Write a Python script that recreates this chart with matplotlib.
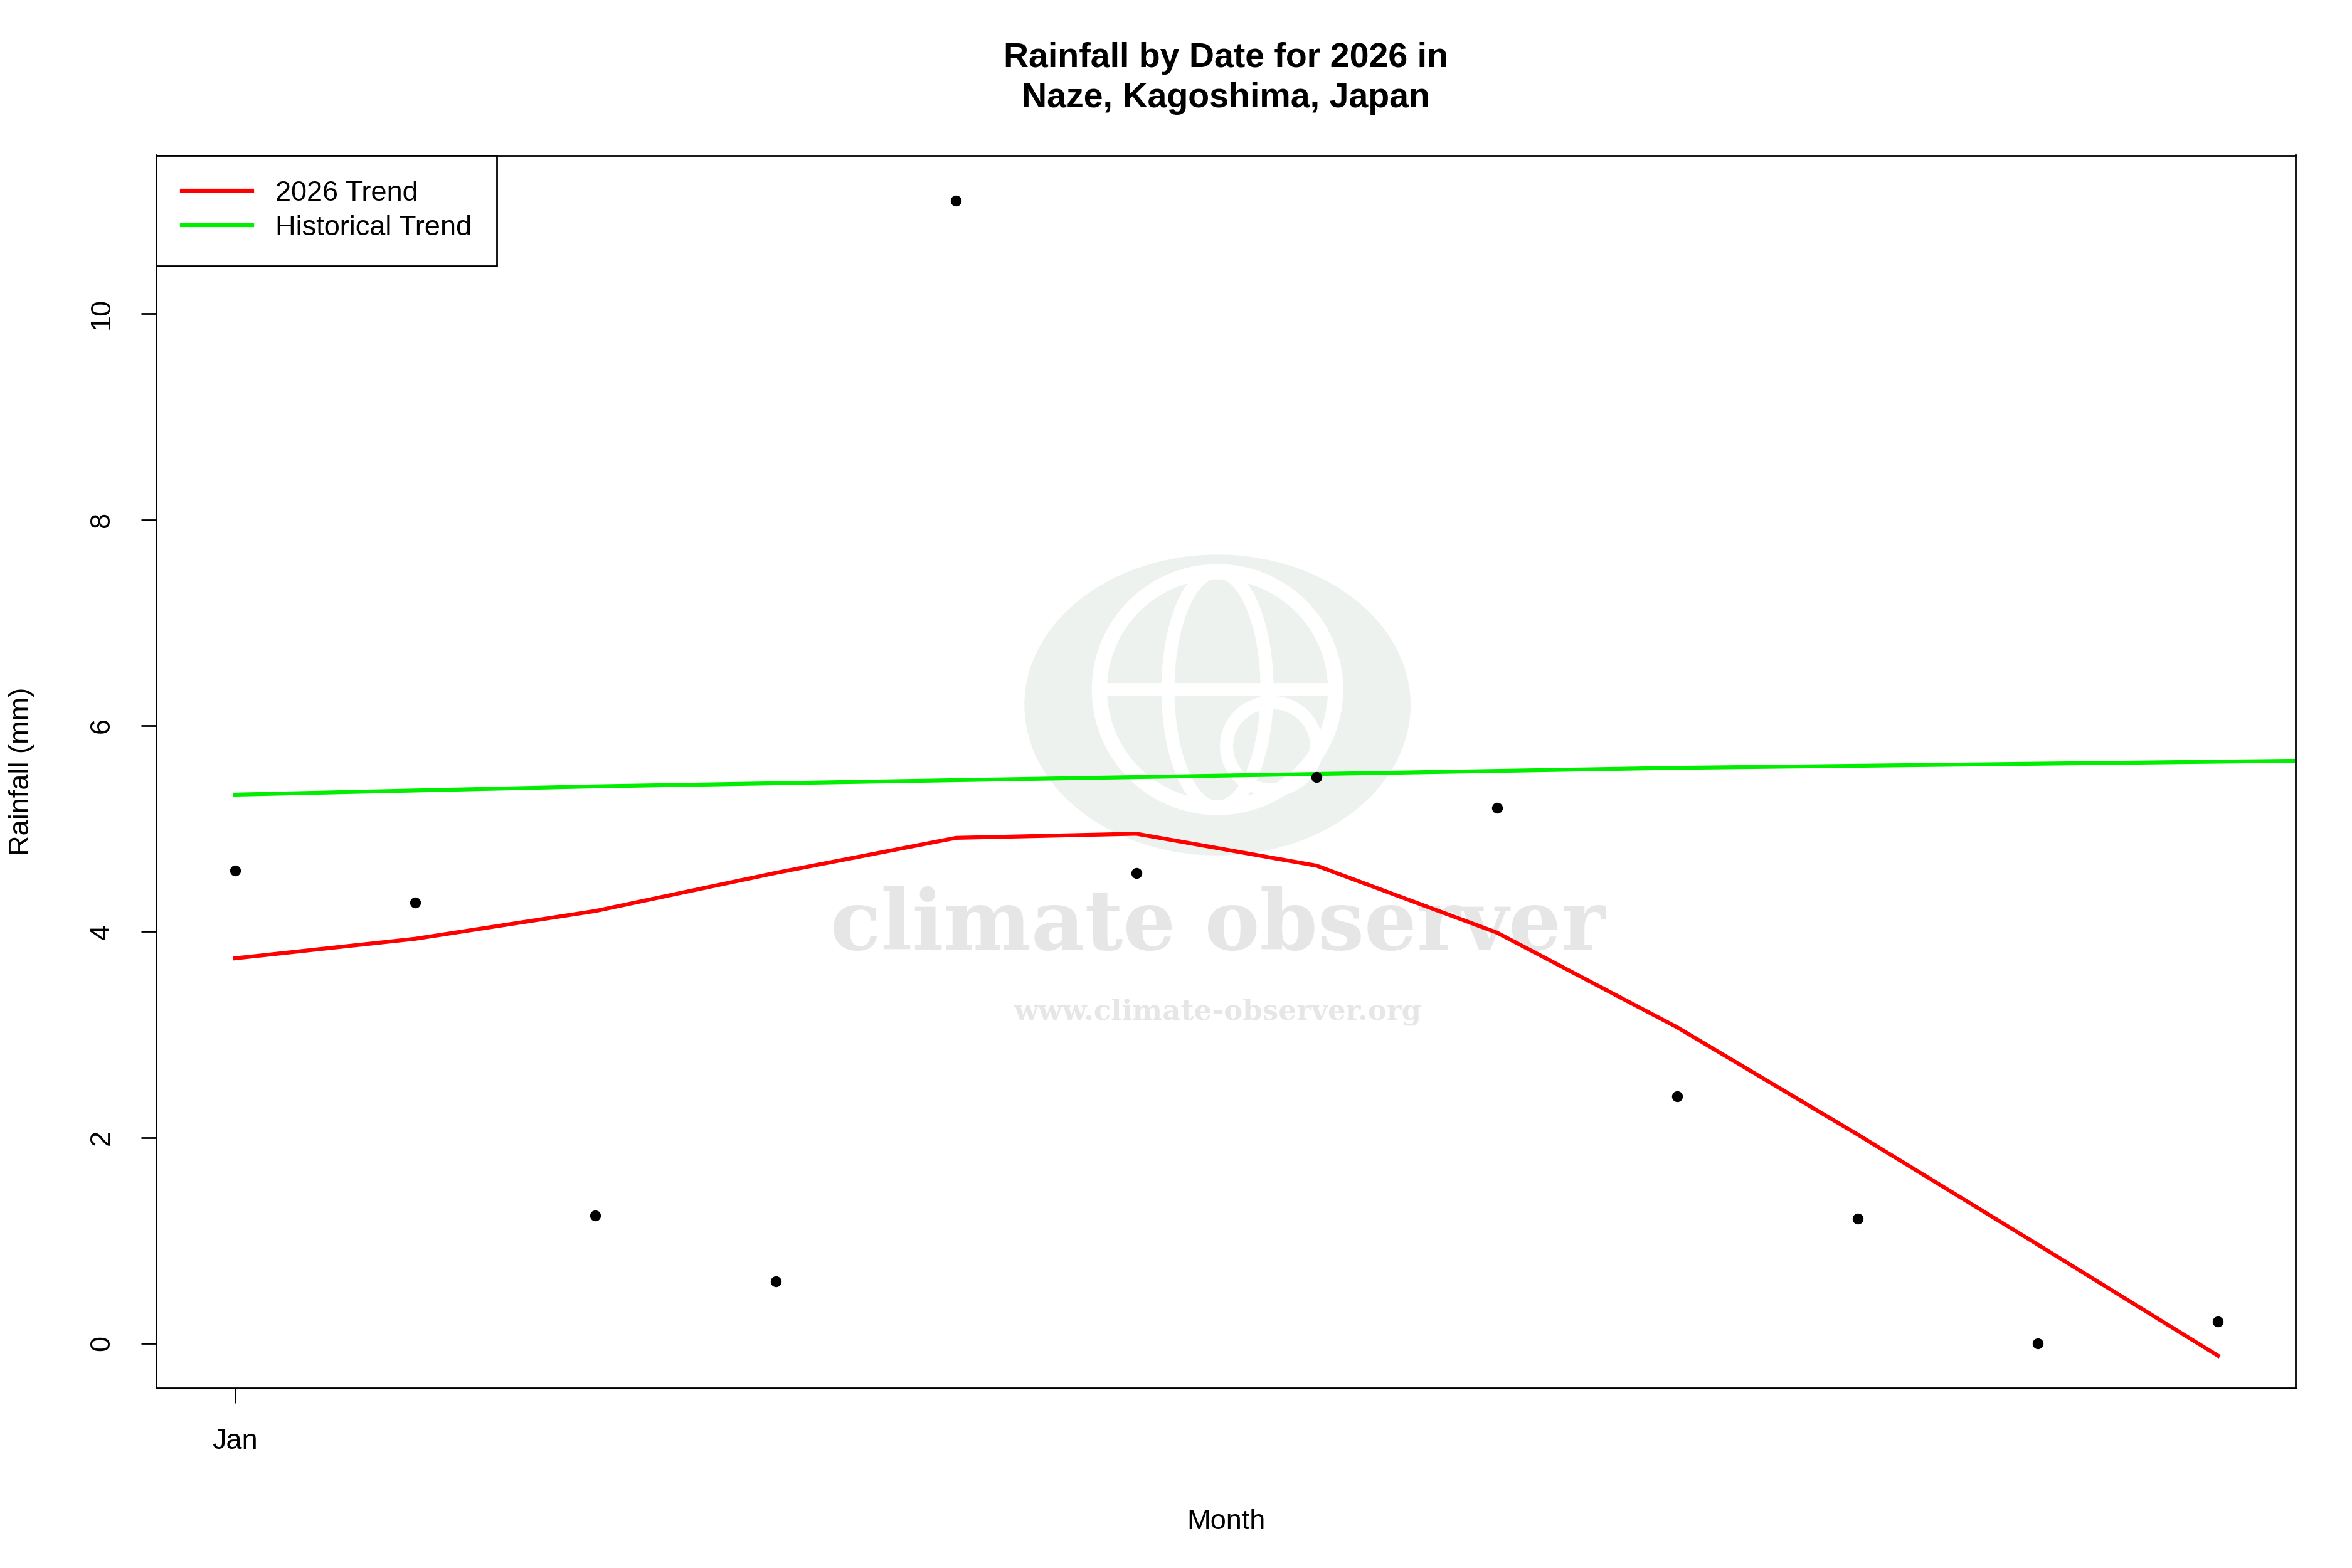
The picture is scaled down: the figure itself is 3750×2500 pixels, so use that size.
import matplotlib
matplotlib.use("Agg")
import matplotlib.pyplot as plt
from matplotlib.patches import Ellipse

plt.rcParams['font.family'] = ['Liberation Sans', 'DejaVu Sans']

days = list(range(12))
rain = [4.59, 4.28, 1.24, 0.60, 11.10, 4.57, 5.50, 5.20, 2.40, 1.21, 0.00, 0.21]
trend_2026 = [3.74, 3.93, 4.20, 4.57, 4.91, 4.95, 4.64, 3.99, 3.07, 2.03, 0.96, -0.12]
hist_x = list(range(13))
hist_trend = [5.33, 5.37, 5.41, 5.44, 5.47, 5.50, 5.53, 5.56, 5.59, 5.61, 5.63, 5.65, 5.67]
xtick_labels = ['Jan']

fig = plt.figure(figsize=(15, 10), dpi=250)
ax = fig.add_axes([0.0664, 0.115, 0.9096, 0.786])

# watermark
ax.add_patch(Ellipse((5.45, 6.2), 2.13, 2.9, color='#eef2ee', zorder=0))
ax.add_patch(Ellipse((5.45, 6.35), 1.31, 2.29, fill=False, ec='white', lw=7, zorder=0.5))
ax.add_patch(Ellipse((5.45, 6.35), 0.55, 2.29, fill=False, ec='white', lw=6, zorder=0.5))
ax.plot([4.8, 6.1], [6.35, 6.35], color='white', lw=6, zorder=0.5)
ax.add_patch(Ellipse((5.75, 5.8), 0.5, 0.85, fill=False, ec='white', lw=6, zorder=0.6))
ax.text(5.45, 4.05, 'climate observer', ha='center', va='center', fontsize=38, fontweight='bold',
        family='DejaVu Serif', color='#e6e6e6', zorder=0.5)
ax.text(5.45, 3.22, 'www.climate-observer.org', ha='center', va='center', fontsize=13, fontweight='bold',
        family='DejaVu Serif', color='#e6e6e6', zorder=0.5)

ax.plot(days, rain, 'o', color='black', ms=4, zorder=3)
ax.plot(days, trend_2026, color='red', lw=1.8, label='2026 Trend', zorder=2)
ax.plot(hist_x, hist_trend, color='#00ee00', lw=1.8, label='Historical Trend', zorder=2)

ax.set_xlim(-0.437, 11.43)
ax.set_ylim(-0.43, 11.54)
ax.set_xticks([0])
ax.set_xticklabels(xtick_labels, fontsize=13)
ax.set_yticks([0, 2, 4, 6, 8, 10])
ax.set_yticklabels(['0', '2', '4', '6', '8', '10'], fontsize=13, rotation=90, va='center')
ax.tick_params(axis='x', pad=12, length=7)
ax.tick_params(axis='y', pad=12, length=7)
ax.set_xlabel('Month', fontsize=13, labelpad=25)
ax.set_ylabel('Rainfall (mm)', fontsize=13, labelpad=25)
ax.set_title('Rainfall by Date for 2026 in\nNaze, Kagoshima, Japan', fontsize=16, fontweight='bold', pad=22,
             linespacing=1.3)
leg = ax.legend(loc='upper left', fontsize=13, fancybox=False, edgecolor='black',
                borderaxespad=0, framealpha=1, handlelength=2.5, borderpad=0.9, labelspacing=0.3)
leg.get_frame().set_linewidth(0.8)

fig.savefig('out.png')
